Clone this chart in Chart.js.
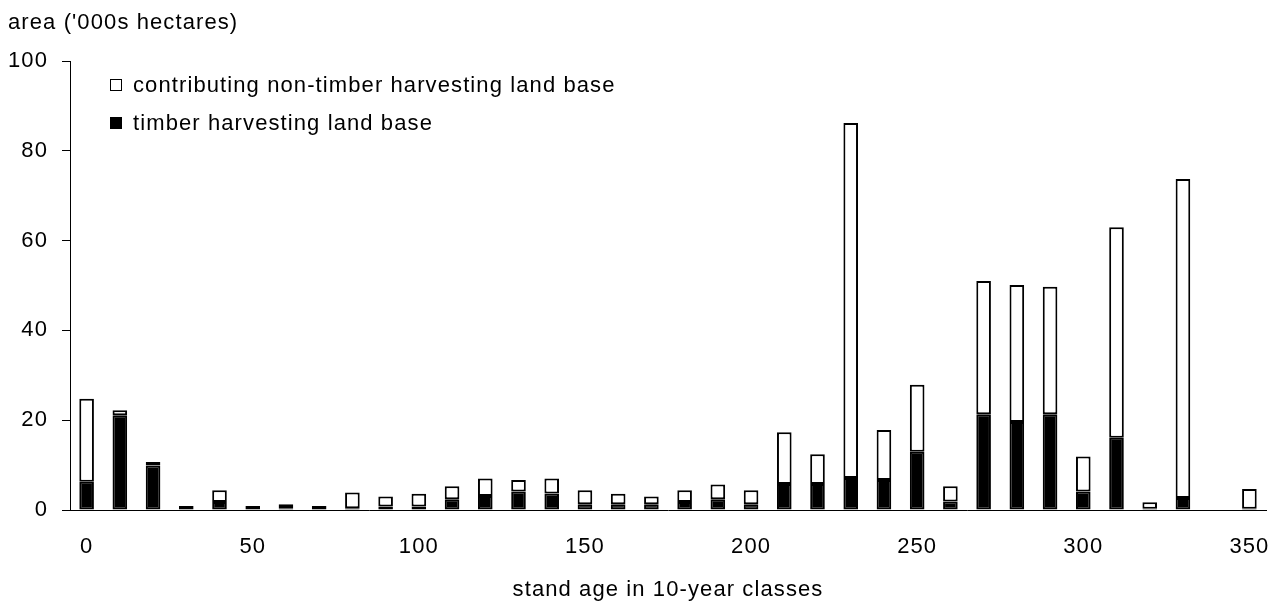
<!DOCTYPE html>
<html>
<head>
<meta charset="utf-8">
<script src="https://cdn.jsdelivr.net/npm/chart.js@4"></script>
<style>
  html, body { margin: 0; padding: 0; background: #fff; }
  #wrap { position: relative; width: 1276px; height: 603px; font-family: "Liberation Sans", Arial, sans-serif; color: #000; }
  canvas { position: absolute; left: 0; top: 0; }
  .txt { position: absolute; font-size: 22px; letter-spacing: 1.1px; white-space: nowrap; line-height: 26px; }
  .box { position: absolute; width: 10px; height: 10px; border: 1.5px solid #000; }
</style>
</head>
<body>
<div id="wrap">
  <canvas id="c" width="1276" height="603"></canvas>
  <div class="txt" id="ytitle" style="left:8px; top:9px;">area ('000s hectares)</div>
  <div class="box" style="left:110px; top:79px; background:#fff;"></div>
  <div class="txt" style="left:133px; top:72px;">contributing non-timber harvesting land base</div>
  <div class="box" style="left:110px; top:117px; background:#000;"></div>
  <div class="txt" style="left:133px; top:110px;">timber harvesting land base</div>
</div>
<script>
const ageClasses = ['0','10','20','30','40','50','60','70','80','90','100','110','120','130','140','150','160','170','180','190','200','210','220','230','240','250','260','270','280','290','300','310','320','330','340','350'];
const timberHLB = [6.3, 21.1, 9.9, 0.9, 1.8, 0.9, 0.4, 0.9, 0.4, 0.8, 0.8, 2.4, 3.1, 4.1, 3.7, 1.3, 1.3, 1.3, 1.8, 2.4, 1.3, 5.8, 5.8, 7.1, 6.7, 13.0, 1.9, 21.3, 19.6, 21.3, 4.1, 16.1, 0.3, 2.7, null, 0.3];
const contributingNonTHLB = [18.5, 1.1, 0.8, 0, 2.6, 0, 0.9, 0, 3.5, 2.2, 2.8, 2.9, 3.9, 2.6, 3.3, 3.1, 2.3, 1.7, 2.6, 3.3, 3.1, 11.5, 6.6, 79.1, 11.1, 14.9, 3.4, 29.7, 30.5, 28.4, 7.8, 46.9, 1.4, 71.0, null, 4.4];
const xTickLabels = ['0','50','100','150','200','250','300','350'];
const yTicks = [0, 20, 40, 60, 80, 100];

const FONT = { family: '"Liberation Sans", Arial, sans-serif', size: 22 };

const spacingPlugin = {
  id: 'spacing',
  beforeLayout(chart) { chart.ctx.letterSpacing = '1.1px'; },
  beforeDraw(chart) { chart.ctx.letterSpacing = '1.1px'; }
};

new Chart(document.getElementById('c'), {
  type: 'bar',
  plugins: [spacingPlugin],
  data: {
    labels: ageClasses,
    datasets: [
      { label: 'timber harvesting land base', data: timberHLB, backgroundColor: '#000', borderColor: '#000', borderWidth: 2, borderSkipped: false, stack: 's' },
      { label: 'contributing non-timber harvesting land base', data: contributingNonTHLB, backgroundColor: '#fff', borderColor: '#000', borderWidth: 2, borderSkipped: false, stack: 's' }
    ]
  },
  options: {
    responsive: false,
    animation: false,
    layout: { padding: { top: 61, right: 10, bottom: 0, left: 0 } },
    datasets: { bar: { categoryPercentage: 1, barPercentage: 0.44 } },
    plugins: { legend: { display: false }, tooltip: { enabled: false }, title: { display: false } },
    scales: {
      x: {
        stacked: true,
        grid: { display: false, drawTicks: false },
        border: { display: true, color: '#000', width: 1 },
        ticks: {
          autoSkip: false, maxRotation: 0, color: '#000', font: FONT, padding: 24,
          callback: function(v) { const l = ageClasses[v]; return xTickLabels.includes(l) ? l : ''; }
        },
        title: { display: true, text: 'stand age in 10-year classes', color: '#000', font: FONT, padding: { top: 4, bottom: 0 } },
        afterFit: function(s) { s.height = 93; s.paddingLeft = 0; s.paddingRight = 0; }
      },
      y: {
        stacked: true, min: 0, max: 100,
        afterBuildTicks: function(s) { s.ticks = yTicks.map(v => ({ value: v })); },
        grid: { drawOnChartArea: false, drawTicks: true, tickLength: 8, color: '#000' },
        border: { display: true, color: '#000', width: 1 },
        ticks: { color: '#000', font: FONT, padding: 14 },
        afterFit: function(s) { s.width = 70; }
      }
    }
  }
});
</script>
</body>
</html>
